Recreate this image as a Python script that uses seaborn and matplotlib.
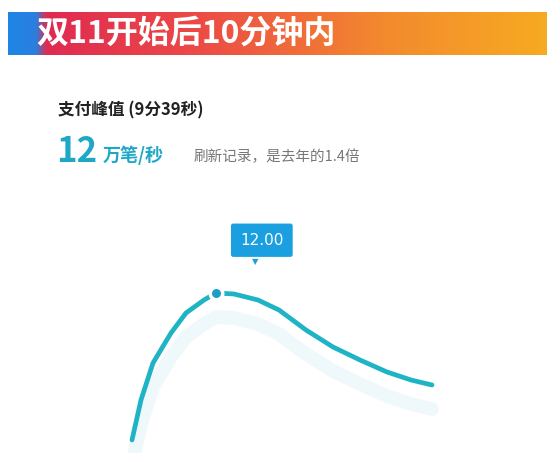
import numpy as np
import pandas as pd
import matplotlib
matplotlib.use("Agg")
import matplotlib.pyplot as plt
from matplotlib.colors import LinearSegmentedColormap
import seaborn as sns

# payment rate over the first 10 minutes (万笔/秒)
minutes = [0, 0.3, 0.7, 1.3, 1.8, 2.4, 2.8, 3.4, 4.2, 4.9, 5.8, 6.7, 7.6, 8.5, 9.3, 10]
rate = [4.65, 6.65, 8.5, 10.0, 11.0, 11.65, 12.0, 11.95, 11.65, 11.15, 10.15, 9.3, 8.65, 8.05, 7.65, 7.4]
peak_idx = 6

title = "双11开始后10分钟内"
subtitle = "支付峰值 (9分39秒)"
big_num = "12"
unit = "万笔/秒"
note = "刷新记录，是去年的1.4倍"
tip = "12.00"

sns.set_theme(style="white")
plt.rcParams["font.family"] = ["Noto Sans CJK SC", "DejaVu Sans"]

W, H = 547, 454
fig = plt.figure(figsize=(W / 100, H / 100), dpi=100)
fig.patch.set_facecolor("white")

def fx(px):
    return px / W

def fy(py):
    return 1 - py / H

# gradient banner
cmap = LinearSegmentedColormap.from_list(
    "banner", [(0, "#1f86e6"), (0.05, "#2a7fe0"), (0.07, "#e02a52"), (0.35, "#ec4a46"), (0.7, "#f38a2e"), (1, "#f7aa22")])
bax = fig.add_axes([fx(8), fy(55), fx(W - 8), (55 - 12) / H])
bax.imshow(np.linspace(0, 1, 256)[None, :], aspect="auto", cmap=cmap, extent=[0, 1, 0, 1])
bax.set_axis_off()
fig.text(fx(36), fy(34), title, color="white", fontsize=23, fontweight="heavy", va="center", ha="left")

# headline texts
fig.text(fx(58), fy(110), subtitle, color="#222222", fontsize=12, fontweight="bold", va="center")
fig.text(fx(56), fy(151), big_num, color="#1ea8c6", fontsize=25, fontweight="bold", va="center")
fig.text(fx(103), fy(155), unit, color="#1ea8c6", fontsize=13, fontweight="bold", va="center")
fig.text(fx(194), fy(157), note, color="#777777", fontsize=10.5, va="center")

# curve
ax = fig.add_axes([fx(117), fy(453), 330 / W, 180 / H])
df = pd.DataFrame({"minute": minutes, "rate": rate})
shadow = df.assign(rate=df["rate"] - 1.2)
sns.lineplot(data=shadow, x="minute", y="rate", ax=ax, color="#cdeef5", linewidth=10, alpha=0.3)
sns.lineplot(data=df, x="minute", y="rate", ax=ax, color="#1fb3c6", linewidth=3.4)
ax.plot(minutes[peak_idx], rate[peak_idx], "o", color="#1b9fc4", markersize=9,
        markeredgecolor="white", markeredgewidth=2.5, zorder=5)
ax.annotate(tip, (minutes[peak_idx], rate[peak_idx]), xytext=(33, 38), textcoords="offset points",
            ha="center", va="center", color="white", fontsize=11, family=["DejaVu Sans"],
            bbox=dict(boxstyle="round,pad=0.6,rounding_size=0.15", fc="#1a9fe0", ec="none"))
fig.text(fx(255), fy(262), "▼", color="#1a9fe0", fontsize=6, ha="center", va="center", family=["DejaVu Sans"])
ax.set_xlim(-0.5, 10.5)
ax.set_ylim(4, 13)
ax.set_axis_off()

fig.savefig("out.png", dpi=100, facecolor="white")
